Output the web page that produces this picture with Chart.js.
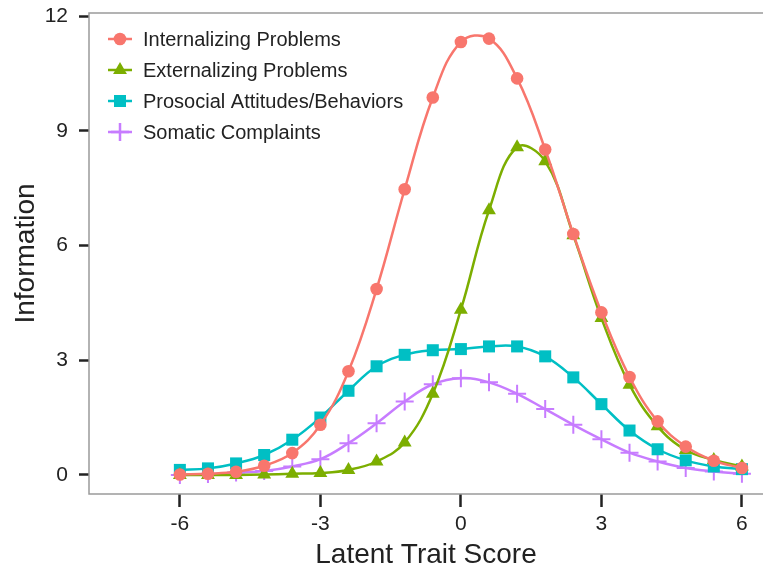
<!DOCTYPE html>
<html>
<head>
<meta charset="utf-8">
<script src="https://cdn.jsdelivr.net/npm/chart.js@4/dist/chart.umd.min.js"></script>
<style>
  html, body { margin: 0; padding: 0; background: #fff; }
  #wrap { width: 763px; height: 574px; }
</style>
</head>
<body>
<div id="wrap"><canvas id="chart" width="763" height="574"></canvas></div>
<script>
// latent trait values where the curves are marked
const theta = [-6, -5.4, -4.8, -4.2, -3.6, -3, -2.4, -1.8, -1.2, -0.6, 0, 0.6, 1.2, 1.8, 2.4, 3, 3.6, 4.2, 4.8, 5.4, 6];

const internalizing = [0.01, 0.03, 0.08, 0.24, 0.57, 1.31, 2.71, 4.86, 7.47, 9.87, 11.32, 11.41, 10.37, 8.51, 6.3, 4.25, 2.56, 1.4, 0.74, 0.37, 0.18];
const externalizing = [0, 0, 0, 0.01, 0.03, 0.05, 0.13, 0.35, 0.85, 2.12, 4.32, 6.92, 8.57, 8.2, 6.27, 4.1, 2.36, 1.27, 0.65, 0.39, 0.22];
const prosocial = [0.13, 0.17, 0.3, 0.52, 0.92, 1.5, 2.2, 2.84, 3.14, 3.26, 3.29, 3.36, 3.36, 3.1, 2.55, 1.85, 1.16, 0.67, 0.38, 0.22, 0.15];
const somatic = [0, 0.02, 0.06, 0.1, 0.22, 0.41, 0.83, 1.35, 1.92, 2.37, 2.53, 2.42, 2.12, 1.72, 1.31, 0.93, 0.58, 0.35, 0.18, 0.09, 0.03];

const xTicks = [-6, -3, 0, 3, 6];
const yTicks = [0, 3, 6, 9, 12];

const FONT = "'Liberation Sans', Arial, sans-serif";

function toPoints(vals) {
    return vals.map((v, i) => ({ x: theta[i], y: v }));
}

function series(label, vals, color, style, radius) {
    return {
        label: label,
        data: toPoints(vals),
        borderColor: color,
        backgroundColor: color,
        borderWidth: 2.5,
        pointStyle: style,
        pointRadius: radius,
        pointBorderWidth: style === 'cross' ? 2 : 0,
        pointBorderColor: color,
        tension: 0.4,
        fill: false
    };
}

// box around the panel (right side runs off the canvas) + legend inside it
const panelPlugin = {
    id: 'panel',
    afterDraw(chart) {
        const c = chart.ctx;
        const a = chart.chartArea;
        c.save();
        c.strokeStyle = '#9a9a9a';
        c.lineWidth = 1.5;
        c.strokeRect(a.left, a.top, chart.width - a.left + 20, a.bottom - a.top);

        // legend
        let y = a.top + 26;
        c.font = '20px ' + FONT;
        c.textBaseline = 'middle';
        chart.data.datasets.forEach(ds => {
            c.strokeStyle = ds.borderColor;
            c.lineWidth = 2.5;
            c.beginPath();
            c.moveTo(a.left + 19, y);
            c.lineTo(a.left + 43, y);
            c.stroke();
            c.fillStyle = ds.borderColor;
            Chart.helpers.drawPoint(c, {
                pointStyle: ds.pointStyle,
                radius: ds.pointRadius,
                borderWidth: ds.pointBorderWidth
            }, a.left + 31, y);
            c.fillStyle = '#222';
            c.fillText(ds.label, a.left + 54, y + 1);
            y += 31;
        });
        c.restore();
    }
};

new Chart(document.getElementById('chart').getContext('2d'), {
    type: 'line',
    data: {
        datasets: [
            series('Internalizing Problems', internalizing, '#F8766D', 'circle', 6.3),
            series('Externalizing Problems', externalizing, '#7CAE00', 'triangle', 8),
            series('Prosocial Attitudes/Behaviors', prosocial, '#00BFC4', 'rect', 8.5),
            series('Somatic Complaints', somatic, '#C77CFF', 'cross', 9)
        ]
    },
    options: {
        responsive: false,
        animation: false,
        layout: { autoPadding: false, padding: { top: 13, right: 0, left: 0, bottom: 0 } },
        plugins: {
            legend: { display: false },
            tooltip: { enabled: false }
        },
        scales: {
            x: {
                type: 'linear',
                min: -7.94,
                max: 6.45,
                afterBuildTicks(axis) {
                    axis.ticks = xTicks.map(v => ({ value: v }));
                },
                afterFit(axis) {
                    axis.height = 80;
                    axis.paddingLeft = 0;
                    axis.paddingRight = 0;
                },
                grid: {
                    drawOnChartArea: false,
                    tickLength: 13,
                    tickWidth: 2.5,
                    tickColor: '#222'
                },
                border: { display: false },
                ticks: {
                    color: '#222',
                    padding: 5,
                    font: { family: FONT, size: 21 }
                },
                title: {
                    display: true,
                    text: 'Latent Trait Score',
                    color: '#222',
                    padding: { top: 0, bottom: 2 },
                    font: { family: FONT, size: 28 }
                }
            },
            y: {
                min: -0.5,
                max: 12.08,
                afterBuildTicks(axis) {
                    axis.ticks = yTicks.map(v => ({ value: v }));
                },
                afterFit(axis) {
                    axis.width = 89;
                    axis.paddingTop = 0;
                    axis.paddingBottom = 0;
                },
                grid: {
                    drawOnChartArea: false,
                    tickLength: 10,
                    tickWidth: 2.5,
                    tickColor: '#222'
                },
                border: { display: false },
                ticks: {
                    color: '#222',
                    padding: 11,
                    font: { family: FONT, size: 21 }
                },
                title: {
                    display: true,
                    text: 'Information',
                    color: '#222',
                    padding: { top: 9, bottom: 0 },
                    font: { family: FONT, size: 28 }
                }
            }
        }
    },
    plugins: [panelPlugin]
});
</script>
</body>
</html>
